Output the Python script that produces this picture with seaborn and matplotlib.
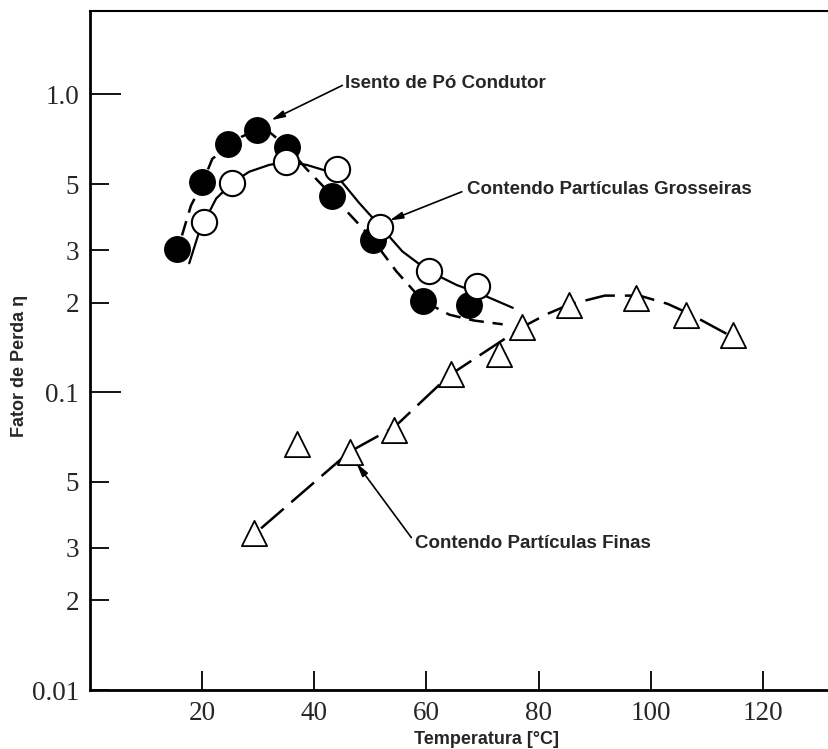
import numpy as np
import pandas as pd
import matplotlib
matplotlib.use("Agg")
import matplotlib.pyplot as plt
import seaborn as sns

# ---- data ----
iso_x = [15.5, 20.0, 24.6, 29.8, 35.2, 43.2, 50.5, 59.3, 67.5]
iso_y = [0.302, 0.509, 0.681, 0.759, 0.666, 0.457, 0.324, 0.203, 0.196]
iso_curve_x = [16.4, 18.0, 20.0, 21.8, 24.6, 27.0, 29.6, 32.0, 35.2, 38.6, 43.2, 47.5, 50.5, 54.6, 59.3, 64.1, 68.5, 73.6]
iso_curve_y = [0.336, 0.423, 0.501, 0.607, 0.671, 0.720, 0.759, 0.747, 0.666, 0.562, 0.457, 0.374, 0.324, 0.255, 0.203, 0.182, 0.174, 0.169]

gro_x = [20.4, 25.4, 35.0, 44.1, 51.8, 60.4, 69.1]
gro_y = [0.374, 0.505, 0.593, 0.562, 0.360, 0.255, 0.227]
gro_curve_x = [17.7, 19.5, 22.5, 25.4, 28.4, 32.0, 35.0, 38.6, 42.1, 44.1, 46.0, 48.0, 51.8, 55.7, 60.4, 65.4, 69.1, 75.4]
gro_curve_y = [0.271, 0.347, 0.447, 0.505, 0.550, 0.580, 0.593, 0.580, 0.554, 0.530, 0.480, 0.432, 0.360, 0.297, 0.255, 0.229, 0.216, 0.192]

fin_x = [29.3, 37.0, 46.3, 54.3, 64.3, 73.0, 77.0, 85.4, 97.3, 106.3, 114.6]
fin_y = [0.0336, 0.067, 0.063, 0.0747, 0.115, 0.134, 0.165, 0.196, 0.207, 0.181, 0.156]
fin_curve_x = [30.5, 46.3, 54.3, 64.1, 73.0, 77.5, 81.5, 85.5, 91.8, 98.0, 103.0, 107.0, 113.8]
fin_curve_y = [0.0349, 0.0631, 0.0764, 0.114, 0.147, 0.167, 0.183, 0.197, 0.211, 0.211, 0.198, 0.183, 0.156]

ytick_vals = [0.01, 0.02, 0.03, 0.05, 0.1, 0.2, 0.3, 0.5, 1.0]
ytick_labels = ["0.01", "2", "3", "5", "0.1", "2", "3", "5", "1.0"]
xtick_vals = [20, 40, 60, 80, 100, 120]

iso_df = pd.DataFrame({"x": iso_x, "y": iso_y})
iso_c = pd.DataFrame({"x": iso_curve_x, "y": iso_curve_y})
gro_df = pd.DataFrame({"x": gro_x, "y": gro_y})
gro_c = pd.DataFrame({"x": gro_curve_x, "y": gro_curve_y})
fin_df = pd.DataFrame({"x": fin_x, "y": fin_y})
fin_c = pd.DataFrame({"x": fin_curve_x, "y": fin_curve_y})

sns.set_style("white")
plt.rcParams["font.family"] = ["Liberation Sans", "DejaVu Sans"]

fig = plt.figure(figsize=(8.29, 7.49), dpi=100)
ax = fig.add_axes([90 / 829, 59 / 749, 1 - 90 / 829, (690 - 10.5) / 749])

ax.set_yscale("log")

sns.lineplot(data=iso_c, x="x", y="y", ax=ax, color="black", lw=1.8,
             linestyle=(0, (6, 3.5)), zorder=2)
sns.lineplot(data=gro_c, x="x", y="y", ax=ax, color="black", lw=1.6, zorder=2)
sns.lineplot(data=fin_c, x="x", y="y", ax=ax, color="black", lw=1.8,
             linestyle=(0, (12, 4)), zorder=2)

sns.scatterplot(data=iso_df, x="x", y="y", ax=ax, marker="o", s=330,
                color="black", edgecolor="black", linewidth=1.2, zorder=3)
sns.scatterplot(data=gro_df, x="x", y="y", ax=ax, marker="o", s=330,
                color="white", edgecolor="black", linewidth=1.5, zorder=4)
sns.scatterplot(data=fin_df, x="x", y="y", ax=ax, marker="^", s=330,
                color="white", edgecolor="black", linewidth=1.3, zorder=4)

ax.set_xlim(0, (829 - 91) / 5.6)
ax.set_ylim(0.01, 10 ** ((95 - 10.5) / 300))

# ticks
serif = ["Liberation Serif", "DejaVu Serif"]
ax.yaxis.set_major_locator(matplotlib.ticker.NullLocator())
ax.yaxis.set_minor_locator(matplotlib.ticker.NullLocator())
ax.set_yticks(ytick_vals)
ax.set_yticklabels(ytick_labels, fontfamily=serif, fontsize=19.5)
ax.set_yticks([], minor=True)
ax.set_xticks(xtick_vals)
ax.set_xticklabels([str(v) for v in xtick_vals], fontfamily=serif, fontsize=19.5)
ax.tick_params(axis="both", which="major", direction="in", length=14, width=1.3,
               color="black", left=True, bottom=True)
ax.tick_params(axis="y", pad=8)
ax.tick_params(axis="x", pad=8)
for t, v in zip(ax.yaxis.get_major_ticks(), ytick_vals):
    if v in (0.1, 1.0):
        t.tick1line.set_markersize(22)

for side in ["left", "bottom"]:
    ax.spines[side].set_linewidth(2.0)
    ax.spines[side].set_color("black")
ax.spines["top"].set_linewidth(1.5)
ax.spines["top"].set_color("black")
ax.spines["right"].set_visible(False)

ax.set_xlabel("")
ax.set_ylabel("")
fig.text(487 / 829, 1 - 740 / 749, "Temperatura [°C]", ha="center", va="center",
         fontsize=13, fontweight="bold")
fig.text(20 / 829, 1 - 366 / 749, "Fator de Perda η", ha="center", va="center",
         rotation=90, fontsize=13, fontweight="bold")

# annotations
arrow = dict(arrowstyle="-|>,head_length=0.8,head_width=0.2", color="black", lw=1.2,
             shrinkA=0, shrinkB=0)
ax.annotate("", xy=(32.3, 0.819), xytext=(45.0, 1.072), arrowprops=arrow)
ax.text(45.5, 1.088, "Isento de Pó Condutor", ha="left", va="center",
        fontsize=13.5, fontweight="bold")
ax.annotate("", xy=(53.4, 0.377), xytext=(66.3, 0.471), arrowprops=arrow)
ax.text(67.3, 0.479, "Contendo Partículas Grosseiras", ha="left", va="center",
        fontsize=13.5, fontweight="bold")
ax.annotate("", xy=(47.5, 0.0578), xytext=(57.3, 0.0325), arrowprops=arrow)
ax.text(57.9, 0.0311, "Contendo Partículas Finas", ha="left", va="center",
        fontsize=13.5, fontweight="bold")

fig.savefig("out.png", dpi=100)
